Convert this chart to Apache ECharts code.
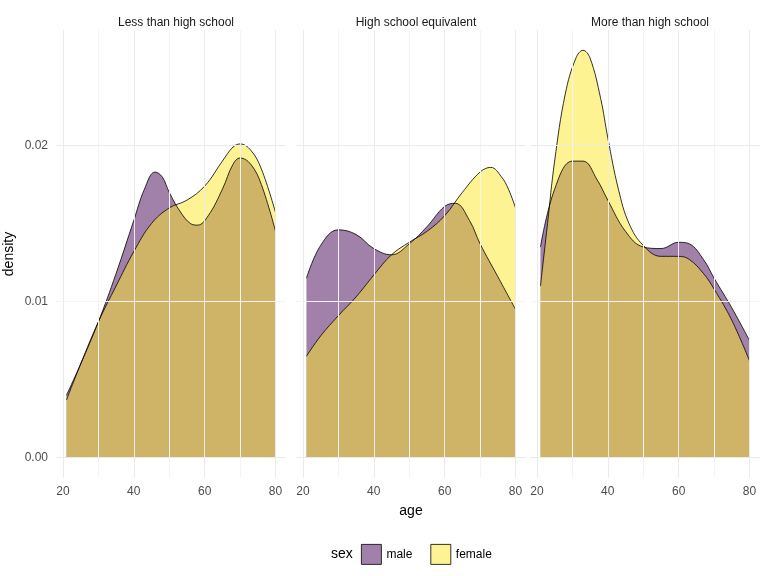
<!DOCTYPE html>
<html>
<head>
<meta charset="utf-8">
<script src="https://cdn.jsdelivr.net/npm/echarts@6/dist/echarts.min.js"></script>
<style>html,body{margin:0;background:#fff}#c{width:768px;height:576px}</style>
</head>
<body>
<div id="c"></div>
<script>
const panels = ['Less than high school', 'High school equivalent', 'More than high school']

// [age, density]
const male = [
  [[21, 0.0040], [25, 0.0060], [30, 0.0087], [35, 0.0118], [40, 0.0152], [43, 0.0172], [46, 0.0183], [48, 0.0180], [50, 0.0170], [53, 0.0158], [56, 0.0150], [58, 0.0149], [61, 0.0155], [65, 0.0172], [68, 0.0188], [70, 0.0192], [73, 0.0188], [76, 0.0175], [80, 0.0145]],
  [[21, 0.0115], [25, 0.0136], [30, 0.0146], [35, 0.0143], [40, 0.0134], [45, 0.0130], [50, 0.0137], [55, 0.0148], [60, 0.0161], [63, 0.0163], [67, 0.0152], [70, 0.0137], [75, 0.0116], [80, 0.0095]],
  [[21, 0.0135], [25, 0.0172], [30, 0.0190], [33, 0.0190], [37, 0.0178], [40, 0.0165], [45, 0.0145], [50, 0.0135], [55, 0.0134], [60, 0.0138], [63, 0.0137], [67, 0.0127], [70, 0.0115], [75, 0.0096], [80, 0.0075]]
]
const female = [
  [[21, 0.0037], [25, 0.0060], [30, 0.0087], [35, 0.0110], [40, 0.0132], [45, 0.0150], [50, 0.0160], [55, 0.0165], [60, 0.0174], [65, 0.0190], [68, 0.0199], [70, 0.0201], [73, 0.0197], [76, 0.0185], [80, 0.0157]],
  [[21, 0.0065], [25, 0.0078], [30, 0.0091], [35, 0.0103], [40, 0.0117], [45, 0.0130], [50, 0.0138], [55, 0.0145], [60, 0.0155], [65, 0.0170], [70, 0.0183], [73, 0.0186], [76, 0.0180], [78, 0.0172], [80, 0.0160]],
  [[21, 0.0110], [23, 0.0150], [25, 0.0190], [28, 0.0233], [31, 0.0256], [33, 0.0261], [35, 0.0256], [38, 0.0230], [40, 0.0205], [43, 0.0172], [46, 0.0150], [50, 0.0136], [55, 0.0129], [60, 0.0129], [63, 0.0127], [67, 0.0118], [70, 0.0108], [75, 0.0088], [80, 0.0062]]
]

const xTicks = [20, 40, 60, 80]
const xGrid = [20, 30, 40, 50, 60, 70, 80]
const yTicks = [0, 0.01, 0.02]
const yGrid = [0, 0.005, 0.01, 0.015, 0.02, 0.025]

const lefts = [56, 296, 530]
const width = 230
const maleFill = 'rgba(68,1,84,0.5)'
const femaleFill = 'rgba(253,231,37,0.5)'

let grids = [], xAxes = [], yAxes = [], series = [], titles = []
panels.forEach((p, i) => {
  grids.push({ left: lefts[i], width: width, top: 30, height: 448 })
  xAxes.push({
    type: 'value', gridIndex: i, min: 18.05, max: 82.95,
    axisLine: { show: false }, axisTick: { show: false }, splitLine: { show: false },
    axisLabel: { customValues: xTicks, color: '#4d4d4d', fontSize: 12, margin: 8, fontFamily: 'Liberation Sans' },
    name: i === 1 ? 'age' : '', nameLocation: 'middle', nameGap: 26,
    nameTextStyle: { color: '#000', fontSize: 14, fontFamily: 'Liberation Sans' }
  })
  yAxes.push({
    type: 'value', gridIndex: i, min: -0.0013, max: 0.0274,
    axisLine: { show: false }, axisTick: { show: false }, splitLine: { show: false },
    axisLabel: { show: i === 0, customValues: yTicks, color: '#4d4d4d', fontSize: 12, fontFamily: 'Liberation Sans',
      formatter: v => v.toFixed(2) },
    name: i === 0 ? 'density' : '', nameLocation: 'middle', nameGap: 40, nameRotate: 90,
    nameTextStyle: { color: '#000', fontSize: 14, fontFamily: 'Liberation Sans' }
  })
  titles.push({ text: p, left: lefts[i] + width / 2, top: 12, textAlign: 'center',
    textStyle: { fontSize: 12, fontWeight: 'normal', color: '#1a1a1a', fontFamily: 'Liberation Sans' } })
  // grid lines
  series.push({
    type: 'line', xAxisIndex: i, yAxisIndex: i, data: [], silent: true,
    markLine: {
      silent: true, symbol: 'none', label: { show: false },
      data: xGrid.map(v => ({ xAxis: v, lineStyle: { color: v % 20 === 0 ? '#ebebeb' : '#f4f4f4', width: 1, type: 'solid' } }))
        .concat(yGrid.map(v => ({ yAxis: v, lineStyle: { color: (v * 1000) % 10 === 0 ? '#ebebeb' : '#f4f4f4', width: 1, type: 'solid' } })))
    }
  })
  series.push({
    name: 'male', type: 'line', xAxisIndex: i, yAxisIndex: i, data: male[i], smooth: 0.4,
    showSymbol: false, color: maleFill, lineStyle: { color: '#000', width: 0.8 },
    areaStyle: { color: maleFill, opacity: 1 }, itemStyle: { color: maleFill, borderColor: '#000' }
  })
  series.push({
    name: 'female', type: 'line', xAxisIndex: i, yAxisIndex: i, data: female[i], smooth: 0.4,
    showSymbol: false, color: femaleFill, lineStyle: { color: '#000', width: 0.8 },
    areaStyle: { color: femaleFill, opacity: 1 }, itemStyle: { color: femaleFill, borderColor: '#000' }
  })
})
titles.push({ text: 'sex', left: 326, top: 542, textStyle: { fontSize: 14, fontWeight: 'normal', color: '#000', fontFamily: 'Liberation Sans' } })

const chart = echarts.init(document.getElementById('c'))
chart.setOption({
  animation: false,
  title: titles,
  grid: grids, xAxis: xAxes, yAxis: yAxes,
  legend: {
    data: ['male', 'female'], left: 356, top: 539, icon: 'rect',
    itemWidth: 20, itemHeight: 20, itemGap: 18,
    itemStyle: { borderColor: '#000', borderWidth: 0.8 },
    textStyle: { fontSize: 12, color: '#000', fontFamily: 'Liberation Sans' }
  },
  series: series
})
</script>
</body>
</html>
